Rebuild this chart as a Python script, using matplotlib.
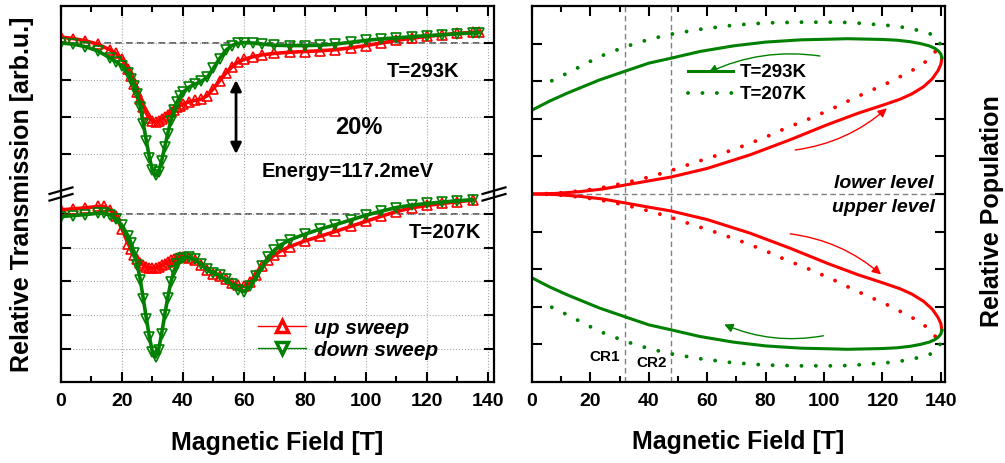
import matplotlib
matplotlib.use("Agg")
import matplotlib.pyplot as plt
from matplotlib.lines import Line2D
from matplotlib.ticker import MultipleLocator, NullFormatter

plt.rcParams['font.family'] = ['Liberation Sans', 'DejaVu Sans']
plt.rcParams['font.weight'] = 'bold'

RED = '#ff0000'
GREEN = '#008000'

# transmission at T=293K (upper trace)
field_293 = [0, 4, 8, 12, 16, 18, 20, 22, 23, 24, 25, 26, 27, 28, 29, 30, 31, 32, 33, 34,
             35, 36, 37, 38, 39, 40, 42, 44, 46, 48, 50, 52, 54, 56, 58, 60, 63, 66, 70, 75,
             80, 85, 90, 95, 100, 105, 110, 115, 120, 125, 130, 135, 137]
up_293 = [1.016, 1.012, 1.006, 0.997, 0.982, 0.972, 0.957, 0.930, 0.910, 0.890, 0.868, 0.848,
          0.828, 0.810, 0.797, 0.789, 0.787, 0.789, 0.794, 0.800, 0.806, 0.813, 0.820, 0.826,
          0.831, 0.835, 0.841, 0.845, 0.848, 0.858, 0.877, 0.898, 0.918, 0.935, 0.948, 0.956,
          0.963, 0.968, 0.972, 0.975, 0.977, 0.979, 0.982, 0.987, 0.993, 1.000, 1.007, 1.013,
          1.018, 1.022, 1.026, 1.029, 1.030]
down_293 = [1.000, 0.997, 0.990, 0.979, 0.960, 0.950, 0.938, 0.918, 0.903, 0.884, 0.862, 0.828,
            0.782, 0.735, 0.690, 0.656, 0.642, 0.652, 0.682, 0.718, 0.755, 0.790, 0.818, 0.840,
            0.856, 0.867, 0.881, 0.889, 0.896, 0.908, 0.932, 0.958, 0.980, 0.993, 0.999, 1.001,
            1.000, 0.997, 0.994, 0.993, 0.993, 0.994, 0.997, 1.002, 1.007, 1.011, 1.014, 1.017,
            1.020, 1.022, 1.025, 1.027, 1.028]

# transmission at T=207K (lower trace)
field_207 = [0, 4, 8, 12, 14, 16, 18, 20, 22, 23, 24, 25, 26, 27, 28, 29, 30, 31, 32, 33, 34,
             35, 36, 37, 38, 39, 40, 42, 44, 46, 48, 50, 52, 54, 56, 58, 60, 62, 64, 66, 68,
             70, 72, 75, 80, 85, 90, 95, 100, 105, 110, 115, 120, 125, 130, 135]
up_207 = [1.012, 1.015, 1.018, 1.022, 1.022, 1.013, 0.993, 0.955, 0.912, 0.895, 0.878, 0.865,
          0.855, 0.848, 0.843, 0.840, 0.840, 0.841, 0.844, 0.848, 0.853, 0.857, 0.862, 0.866,
          0.870, 0.872, 0.873, 0.870, 0.862, 0.850, 0.835, 0.823, 0.815, 0.806, 0.796, 0.788,
          0.785, 0.797, 0.820, 0.845, 0.863, 0.878, 0.890, 0.903, 0.920, 0.934, 0.948, 0.963,
          0.978, 0.993, 1.007, 1.018, 1.025, 1.031, 1.036, 1.041]
down_207 = [0.992, 0.995, 0.998, 1.002, 1.002, 0.998, 0.986, 0.966, 0.935, 0.913, 0.885, 0.850,
            0.805, 0.748, 0.690, 0.635, 0.590, 0.576, 0.598, 0.645, 0.700, 0.752, 0.797, 0.830,
            0.852, 0.865, 0.870, 0.872, 0.865, 0.852, 0.836, 0.826, 0.818, 0.806, 0.791, 0.776,
            0.770, 0.785, 0.815, 0.845, 0.872, 0.893, 0.908, 0.923, 0.940, 0.955, 0.968, 0.982,
            0.996, 1.008, 1.019, 1.026, 1.031, 1.035, 1.039, 1.042]

# relative population, lower-level branch (upper level is the mirror image)
up_x_293 = [0, 8, 16, 24, 32, 40, 47.5, 60, 74.6, 88.3, 101, 111.7, 120, 126, 130, 134, 137,
            139, 140, 140.3]
up_y_293 = [0, 0.015, 0.06, 0.13, 0.24, 0.35, 0.45, 0.68, 1.04, 1.44, 1.84, 2.15, 2.36, 2.52,
            2.66, 2.85, 3.06, 3.28, 3.45, 3.62]
down_x_293 = [140.3, 140, 139.2, 138, 136, 133, 129.5, 125, 120, 114, 108, 103, 92, 80, 69,
              57.5, 47.5, 40, 32, 23, 12, 6, 0]
down_y_293 = [3.62, 3.72, 3.80, 3.87, 3.94, 4.00, 4.05, 4.09, 4.11, 4.12, 4.13, 4.12, 4.10,
              4.04, 3.94, 3.79, 3.61, 3.48, 3.27, 3.03, 2.68, 2.47, 2.23]
up_x_207 = [0, 4, 8, 12, 16, 20, 24, 28, 32, 36, 40, 44, 47.5, 55, 63, 71, 79, 86.6, 94.6,
            102.6, 110, 114, 118, 122, 126, 130, 134, 137.4, 139.7]
up_y_207 = [0, 0.005, 0.02, 0.045, 0.08, 0.12, 0.17, 0.23, 0.30, 0.37, 0.45, 0.54, 0.62, 0.82,
            1.02, 1.24, 1.48, 1.74, 1.99, 2.26, 2.54, 2.68, 2.82, 2.96, 3.12, 3.28, 3.47, 3.70,
            4.00]
down_x_207 = [139.7, 139, 138, 136, 134, 129, 124, 119, 114, 109, 103, 92, 80, 69, 57.5, 47.5,
              40, 32, 23, 12, 3]
down_y_207 = [4.00, 4.12, 4.20, 4.27, 4.32, 4.41, 4.47, 4.50, 4.53, 4.56, 4.57, 4.57, 4.55,
              4.49, 4.38, 4.25, 4.11, 3.92, 3.65, 3.21, 2.87]

cr_fields = [32, 47.5]

W, H = 1005, 463
fig = plt.figure(figsize=(W / 100, H / 100), dpi=100)


def box(l, t, r, b):
    return [l / W, 1 - b / H, (r - l) / W, (b - t) / H]


def style(ax):
    for s in ax.spines.values():
        s.set_linewidth(1.6)
    ax.tick_params(which='both', direction='in', top=True, right=True, width=1.5,
                   labelsize=14, pad=8)
    ax.tick_params(which='major', length=7)
    ax.tick_params(which='minor', length=4)
    ax.xaxis.set_major_locator(MultipleLocator(20))
    ax.xaxis.set_minor_locator(MultipleLocator(10))
    ax.yaxis.set_major_formatter(NullFormatter())


ax_top = fig.add_axes(box(61, 6, 494, 194))
ax_bot = fig.add_axes(box(61, 194, 494, 382))
ax_r = fig.add_axes(box(532, 6, 945, 382))

mk = dict(lw=2.6, ms=6.5, mfc='none', mew=1.2)
for ax, f, up, down, ylim, yt in [
        (ax_top, field_293, up_293, down_293, (0.592, 1.1), [0.7, 0.8, 0.9, 1.0]),
        (ax_bot, field_207, up_207, down_207, (0.502, 1.059), [0.6, 0.7, 0.8, 0.9, 1.0])]:
    style(ax)
    ax.set_xlim(0, 142)
    ax.set_ylim(*ylim)
    ax.set_yticks(yt)
    ax.grid(True, ls=':', color='#a8a8a8', lw=0.8)
    ax.axhline(1.0, ls=(0, (4, 2.5)), color='#505050', lw=1.2, zorder=1)
    ax.plot(f, up, color=RED, marker='^', **mk)
    ax.plot(f, down, color=GREEN, marker='v', **mk)

ax_top.spines['bottom'].set_visible(False)
ax_top.tick_params(which='both', bottom=False, labelbottom=False)
ax_bot.spines['top'].set_visible(False)
ax_bot.tick_params(which='both', top=False)

# axis break marks
for xc in (61, 494):
    for yc in (190.7, 197.3):
        fig.add_artist(Line2D([(xc - 11.5) / W, (xc + 11.5) / W],
                              [1 - (yc + 3.3) / H, 1 - (yc - 3.3) / H],
                              color='black', lw=1.6))

ax_top.text(118.7, 0.924, 'T=293K', ha='center', va='center', fontsize=14.5)
ax_top.text(97.8, 0.771, '20%', ha='center', va='center', fontsize=17)
ax_top.text(93.9, 0.652, 'Energy=117.2meV', ha='center', va='center', fontsize=14.5)
ax_top.annotate('', xy=(57.4, 0.7), xytext=(57.4, 0.9),
                arrowprops=dict(arrowstyle='<|-|>', color='black', lw=2, mutation_scale=16,
                                shrinkA=0, shrinkB=0))
ax_bot.text(125.9, 0.945, 'T=207K', ha='center', va='center', fontsize=14.5)

leg_handles = [Line2D([], [], color=RED, lw=1, marker='^', ms=8, mfc='white', mew=2.5),
               Line2D([], [], color=GREEN, lw=1, marker='v', ms=8, mfc='white', mew=2.5)]
ax_bot.legend(leg_handles, ['up sweep', 'down sweep'], loc='upper left',
              bbox_to_anchor=(0.455, 0.337), frameon=False,
              prop=dict(style='italic', weight='bold', size=15), handlelength=2.3,
              handletextpad=0.4, labelspacing=0.15, borderpad=0, borderaxespad=0)

# population panel
style(ax_r)
ax_r.set_xlim(0, 141.4)
ax_r.set_ylim(-5, 5)
ax_r.set_yticks([-4, -3, -2, -1, 0, 1, 2, 3, 4])
ax_r.axhline(0, ls=(0, (4, 2.5)), color='#808080', lw=1, zorder=1)
for c in cr_fields:
    ax_r.axvline(c, ls=(0, (4, 2.5)), color='#808080', lw=1, zorder=1)

dots = dict(lw=2.8, ls=(0, (0.01, 3.7)), dash_capstyle='round')
for s in (1, -1):
    ax_r.plot(up_x_207, [s * v for v in up_y_207], color=RED, **dots)
    ax_r.plot(down_x_207, [s * v for v in down_y_207], color=GREEN, **dots)
    ax_r.plot(up_x_293, [s * v for v in up_y_293], color=RED, lw=2.2)
    ax_r.plot(down_x_293, [s * v for v in down_y_293], color=GREEN, lw=2.2)

r_handles = [Line2D([], [], color=GREEN, lw=2.2),
             Line2D([], [], color=GREEN, **dots)]
ax_r.legend(r_handles, ['T=293K', 'T=207K'], loc='upper left', bbox_to_anchor=(0.378, 0.845),
            frameon=False, prop=dict(weight='bold', size=13.5), handlelength=2.4,
            handletextpad=0.35, labelspacing=0.25, borderpad=0, borderaxespad=0)

arrow_specs = [((98.6, 3.67), (60.4, 3.23), GREEN, 0.15),
               ((90.1, 1.17), (121.5, 2.28), RED, 0.15),
               ((88.4, -1.06), (119.5, -2.14), RED, -0.15),
               ((99.8, -3.77), (65.8, -3.47), GREEN, -0.15)]
for start, end, col, rad in arrow_specs:
    ax_r.annotate('', xy=end, xytext=start,
                  arrowprops=dict(arrowstyle='-|>', color=col, lw=1, mutation_scale=13,
                                  connectionstyle=f'arc3,rad={rad}', shrinkA=0, shrinkB=0))

ax_r.text(137.5, 0.29, 'lower level', ha='right', va='center', fontsize=14, style='italic')
ax_r.text(138, -0.35, 'upper level', ha='right', va='center', fontsize=14, style='italic')
ax_r.text(25, -4.34, 'CR1', ha='center', va='center', fontsize=11)
ax_r.text(41.1, -4.49, 'CR2', ha='center', va='center', fontsize=11)

fig.text(277.5 / W, 1 - 443 / H, 'Magnetic Field [T]', ha='center', va='center', fontsize=18)
fig.text(738.5 / W, 1 - 442 / H, 'Magnetic Field [T]', ha='center', va='center', fontsize=18)
fig.text(22 / W, 1 - 194 / H, 'Relative Transmission [arb.u.]', rotation=90,
         ha='center', va='center', fontsize=18)
fig.text(992 / W, 1 - 211 / H, 'Relative Population', rotation=90,
         ha='center', va='center', fontsize=18)

fig.savefig('out.png', dpi=100)
